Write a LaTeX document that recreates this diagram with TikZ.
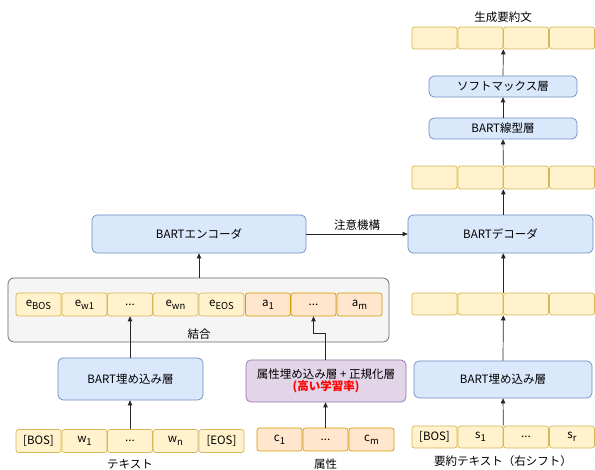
\documentclass[tikz,border=0pt]{standalone}
\usepackage{fontspec}
\setmainfont{Noto Sans CJK JP}
\usetikzlibrary{arrows.meta}
\definecolor{yfill}{HTML}{FFF2CC}\definecolor{ydraw}{HTML}{D6B656}
\definecolor{ofill}{HTML}{FFE6CC}\definecolor{odraw}{HTML}{D79B00}
\definecolor{bfill}{HTML}{DAE8FC}\definecolor{bdraw}{HTML}{6C8EBF}
\definecolor{gfill}{HTML}{F5F5F5}\definecolor{gdraw}{HTML}{666666}
\definecolor{pfill}{HTML}{E1D5E7}\definecolor{pdraw}{HTML}{9673A6}
\definecolor{redtxt}{HTML}{FF0000}
\newcommand{\sbs}[1]{\raisebox{-3pt}{\fontsize{9.5}{10}\selectfont #1}}
\tikzset{
  every node/.style={font=\fontsize{11.5}{13.5}\selectfont, inner sep=0pt},
  ycell/.style={draw=ydraw, fill=yfill, rounded corners=2.5pt, minimum width=45pt, minimum height=23pt, line width=0.7pt},
  ocell/.style={draw=odraw, fill=ofill, rounded corners=2.5pt, minimum width=45pt, minimum height=23pt, line width=0.7pt},
  bbox/.style={draw=bdraw, fill=bfill, rounded corners=5pt, line width=0.7pt, align=center},
  pbox/.style={draw=pdraw, fill=pfill, rounded corners=5pt, line width=0.7pt, align=center},
  gbox/.style={draw=gdraw, fill=gfill, rounded corners=6pt, line width=0.7pt},
  arr/.style={-{Triangle[length=5pt,width=4.5pt]}, line width=0.7pt, draw=black!85},
  lbl/.style={font=\fontsize{11.5}{13.5}\selectfont}
}
\begin{document}
\begin{tikzpicture}[x=1pt,y=-1pt]
\useasboundingbox (0,0) rectangle (595,470);
% group
\node[gbox, minimum width=381pt, minimum height=64pt] (grp) at (198.5,310) {};
\node[lbl] (ketsugo) at (199,334) {結合};
% concat cells
\node[ycell] (l1) at (38.5,304.5) {e\sbs{BOS}};
\node[ycell] (l2) at (84.5,304.5) {e\sbs{w1}};
\node[ycell] (l3) at (130,304.5) {...};
\node[ycell] (l4) at (175.5,304.5) {e\sbs{wn}};
\node[ycell] (l5) at (221.5,304.5) {e\sbs{EOS}};
\node[ocell] (l6) at (268,304.5) {a\sbs{1}};
\node[ocell] (l7) at (313.5,304.5) {...};
\node[ocell] (l8) at (359.5,304.5) {a\sbs{m}};
% encoder
\node[bbox, minimum width=214pt, minimum height=38pt] (enc) at (199,234) {BARTエンコーダ};
% left embedding
\node[bbox, minimum width=145pt, minimum height=42pt] (lemb) at (130.5,379) {BART埋め込み層};
% attribute box
\node[pbox, minimum width=160pt, minimum height=42pt] (attr) at (326,381) {属性埋め込み層 + 正規化層\\[-2pt]\textcolor{redtxt}{\bfseries (高い学習率)}};
% bottom left cells
\node[ycell] (w1) at (38.5,441) {[BOS]};
\node[ycell] (w2) at (84.5,441) {w\sbs{1}};
\node[ycell] (w3) at (130,441) {...};
\node[ycell] (w4) at (175.5,441) {w\sbs{n}};
\node[ycell] (w5) at (221.5,441) {[EOS]};
\node[lbl] (text) at (130,464) {テキスト};
% attribute cells
\node[ocell] (c1) at (279.5,439.5) {c\sbs{1}};
\node[ocell] (c2) at (325.5,439.5) {...};
\node[ocell] (c3) at (371.5,439.5) {c\sbs{m}};
\node[lbl] (zokusei) at (325.5,464) {属性};
% right side
\node[ycell, minimum height=22pt] (rb1) at (434.5,437) {[BOS]};
\node[ycell, minimum height=22pt] (rb2) at (480.5,437) {s\sbs{1}};
\node[ycell, minimum height=22pt] (rb3) at (526,437) {...};
\node[ycell, minimum height=22pt] (rb4) at (572,437) {s\sbs{r}};
\node[lbl] (yoyaku) at (503,461) {要約テキスト（右シフト）};
\node[bbox, minimum width=178pt, minimum height=37pt] (remb) at (503,379.5) {BART埋め込み層};
\node[ycell, minimum height=22pt] (rm1) at (434.5,304) {};
\node[ycell, minimum height=22pt] (rm2) at (480.5,304) {};
\node[ycell, minimum height=22pt] (rm3) at (526,304) {};
\node[ycell, minimum height=22pt] (rm4) at (572,304) {};
\node[bbox, minimum width=185pt, minimum height=38pt] (dec) at (500.5,234) {BARTデコーダ};
\node[ycell] (ru1) at (434.5,177.5) {};
\node[ycell] (ru2) at (480.5,177.5) {};
\node[ycell] (ru3) at (526,177.5) {};
\node[ycell] (ru4) at (572,177.5) {};
\node[bbox, minimum width=148pt, minimum height=21pt] (lin) at (503,128.5) {BART線型層};
\node[bbox, minimum width=148pt, minimum height=21pt] (soft) at (503,86.5) {ソフトマックス層};
\node[ycell, minimum height=22pt] (rt1) at (434.5,38) {};
\node[ycell, minimum height=22pt] (rt2) at (480.5,38) {};
\node[ycell, minimum height=22pt] (rt3) at (526,38) {};
\node[ycell, minimum height=22pt] (rt4) at (572,38) {};
\node[lbl] (gen) at (503,17) {生成要約文};
% arrows left
\draw[arr] (w3.north) -- (w3.north |- lemb.south);
\draw[arr] (lemb.north -| l3.south) -- (l3.south);
\coordinate (bend) at (325,333);
\draw[arr] (attr.north -| bend) -- (bend) -| (l7.south);
\draw[arr] (c2.north) -- (c2.north |- attr.south);
\draw[arr] (grp.north -| enc.south) -- (enc.south);
% attention
\draw[arr] (enc.east) -- node[above=3pt, lbl] {注意機構} (dec.west);
% arrows right
\draw[arr] (rb2.north east) -- (remb.south);
\draw[arr] (remb.north) -- (rm2.south east);
\draw[arr] (rm2.north east) -- (rm2.north east |- dec.south);
\draw[arr] (rm2.north east |- dec.north) -- (ru2.south east);
\draw[arr] (ru2.north east) -- (lin.south);
\draw[arr] (lin.north) -- (soft.south);
\draw[arr] (soft.north) -- (rt2.south east);
\end{tikzpicture}
\end{document}
